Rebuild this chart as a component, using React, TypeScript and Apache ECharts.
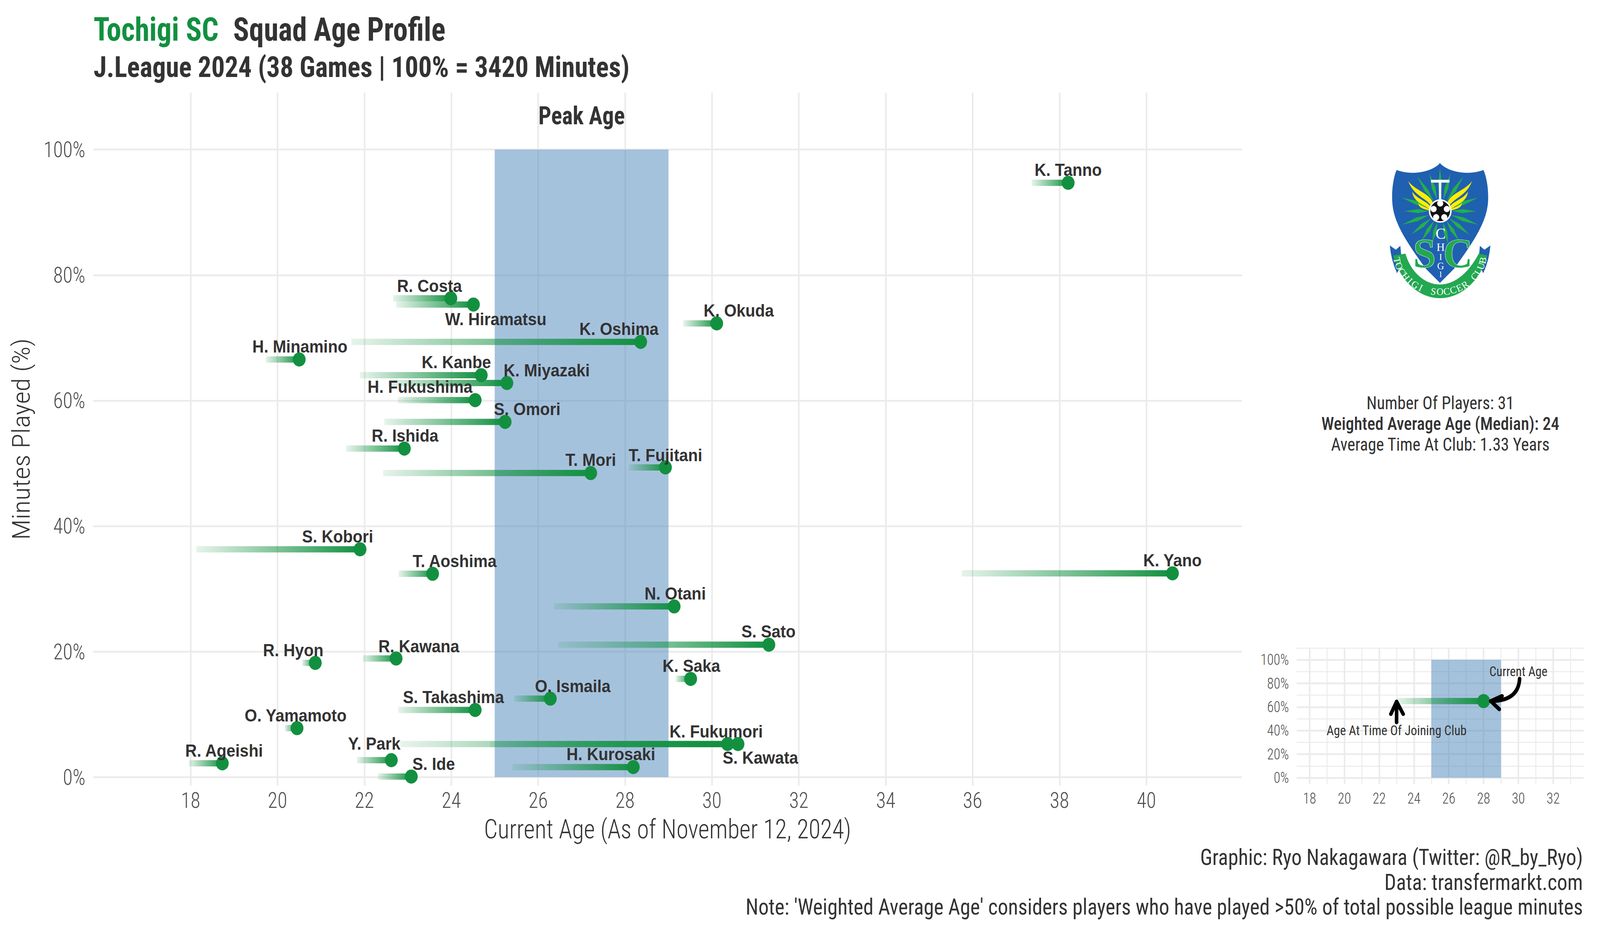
import React, { useEffect, useRef } from "react";
import * as echarts from "echarts";

const players = ["R. Costa","W. Hiramatsu","K. Oshima","H. Minamino","K. Kanbe","K. Miyazaki","H. Fukushima","S. Omori","R. Ishida","T. Mori","T. Fujitani","S. Kobori","T. Aoshima","N. Otani","S. Sato","R. Hyon","R. Kawana","K. Saka","O. Ismaila","S. Takashima","O. Yamamoto","K. Fukumori","S. Kawata","Y. Park","H. Kurosaki","R. Ageishi","S. Ide","K. Okuda","K. Tanno","K. Yano"];
const currentAge = [23.99,24.51,28.36,20.5,24.69,25.28,24.55,25.24,22.92,27.21,28.93,21.9,23.57,29.13,31.31,20.87,22.73,29.51,26.28,24.55,20.45,30.36,30.6,22.62,28.19,18.73,23.08,30.11,38.2,40.6];
const joinAge = [22.66,22.73,21.7,19.73,21.9,22.55,22.77,22.46,21.58,22.43,28.09,18.13,22.79,26.36,26.46,20.57,21.96,29.17,25.44,22.78,20.17,22.83,24.9,21.83,25.41,17.96,22.31,29.34,37.36,35.75];
const minutesPct = [76.3,75.3,69.35,66.55,64.05,62.8,60.07,56.6,52.35,48.45,49.35,36.3,32.4,27.2,21.1,18.2,18.9,15.65,12.5,10.7,7.8,5.27,5.27,2.7,1.6,2.2,0.09,72.3,94.7,32.47];
const labelDx = [-60,63,-61,2,-70,112,-155,62,2,0,0,-63,62,3,-1,-62,64,2,63,-61,-4,-32,63,-48,-63,5,63,62,0,0];
const labelDy = [-32,37,-33,-33,-34,-33,-34,-33,-33,-34,-32,-33,-33,-33,-34,-33,-32,-34,-32,-33,-33,-32,35,-43,-33,-33,-33,-33,-33,-34];

const mainAgeTicks = [18,20,22,24,26,28,30,32,34,36,38,40];
const pctTicks = [0,20,40,60,80,100];
const insetAgeTicks = [18,20,22,24,26,28,30,32];
const insetAgeMinor = [19,21,23,25,27,29,31,33];
const insetPctMinor = [10,30,50,70,90,110];
const peakBand = [25,29,0,100];
const exampleLine = [23,28,65];
const insetStraightArrow = [[23,47],[23,64.5]];
const insetArrowHeadA = [[22.67,54],[23,64.5],[23.38,54]];
const insetCurve = [[30.07,84],[30,65],[28.41,65]];
const insetArrowHeadB = [[29.06,69.3],[28.41,65],[28.9,58.1]];
const statLines = ["Number Of Players: 31","Weighted Average Age (Median): 24","Average Time At Club: 1.33 Years"];
const captionLines = ["Graphic: Ryo Nakagawara (Twitter: @R_by_Ryo)","Data: transfermarkt.com","Note: 'Weighted Average Age' considers players who have played >50% of total possible league minutes"];

const GREEN = "#129040";
const DARK = "#333333";
const GRID = "#EBEBEB";
const RC = "Roboto";
const PAGE_W = 4500;
const PAGE_H = 2400;

echarts.graphic.registerShape("tsShield", echarts.graphic.extendPath("M700,112 C650,170 500,215 358,165 C330,230 318,330 325,420 C335,560 420,700 590,925 L700,1032 L810,925 C980,700 1065,560 1078,420 C1085,330 1072,230 1043,165 C900,215 750,170 700,112 Z", {}));
echarts.graphic.registerShape("tsRibbonEnd", echarts.graphic.extendPath("M305,745 L352,778 L388,748 L400,880 L362,958 Q315,860 305,745 Z", {}));
echarts.graphic.registerShape("tsBand", echarts.graphic.extendPath("M332,822 L428,808 C470,950 580,1045 700,1045 C820,1045 930,950 1005,808 L1072,822 C1020,1020 860,1150 700,1150 C540,1150 385,1020 332,822 Z", {}));
echarts.graphic.registerShape("tsWing", echarts.graphic.extendPath("M450,250 C500,320 610,340 642,410 L628,438 C590,380 490,360 450,250 Z M482,332 C520,390 590,400 625,445 L615,465 C570,430 490,410 482,332 Z M530,418 C550,445 590,445 615,468 L612,475 C570,465 530,455 530,418 Z", {}));

const rayTips = [[700,150],[618,195],[520,215],[400,378],[420,482],[402,585],[475,660],[555,710],[640,720],[782,195],[885,215],[1000,378],[985,482],[1000,585],[930,660],[850,710],[765,730]];
function rayPoints(tip: number[]) {
  const cx = 702, cy = 480;
  const dx = tip[0] - cx, dy = tip[1] - cy, len = Math.hypot(dx, dy);
  const ux = dx / len, uy = dy / len;
  const bx = cx + ux * 90, by = cy + uy * 90;
  const mx = cx + ux * (90 + (len - 90) * 0.45), my = cy + uy * (90 + (len - 90) * 0.45);
  return [tip, [mx - uy * 15, my + ux * 15], [bx, by], [mx + uy * 15, my - ux * 15]];
}

function logoChildren(): any[] {
  const kids: any[] = [
    { type: "tsRibbonEnd", style: { fill: "#2060B0" } },
    { type: "tsRibbonEnd", x: 1402, scaleX: -1, style: { fill: "#2060B0" } },
    { type: "tsShield", style: { fill: "#2060B0" } },
  ];
  rayTips.forEach((t) => kids.push({ type: "polygon", shape: { points: rayPoints(t) }, style: { fill: "#22B04A" } }));
  kids.push({ type: "tsWing", style: { fill: "#FFEE00" } });
  kids.push({ type: "tsWing", x: 1402, scaleX: -1, style: { fill: "#FFEE00" } });
  kids.push({ type: "rect", shape: { x: 630, y: 240, width: 145, height: 22 }, style: { fill: "#fff" } });
  kids.push({ type: "rect", shape: { x: 692, y: 250, width: 18, height: 150 }, style: { fill: "#fff" } });
  kids.push({ type: "circle", shape: { cx: 702, cy: 480, r: 90 }, style: { fill: "#fff" } });
  kids.push({ type: "circle", shape: { cx: 702, cy: 480, r: 78 }, style: { fill: "#111" } });
  [[702,422],[650,465],[754,465],[670,528],[734,528]].forEach(([cx, cy]) =>
    kids.push({ type: "circle", shape: { cx, cy, r: 24 }, style: { fill: "#fff" } }));
  kids.push({ type: "tsBand", style: { fill: "#22A850" } });
  const serif = "Liberation Serif";
  ([["C",705,655,120],["H",705,755,90],["I",705,830,70],["G",705,900,75],["I",705,965,60]] as any[]).forEach(([text, x, y, size]) =>
    kids.push({ type: "text", x, y, style: { text, fontFamily: serif, fontSize: size, fill: "#fff", textAlign: "center", textVerticalAlign: "middle" } }));
  ([["S",578,805],["C",842,805]] as any[]).forEach(([text, x, y]) =>
    kids.push({ type: "text", x, y, style: { text, fontFamily: serif, fontWeight: 700, fontSize: 320, fill: "#22A850", stroke: "#fff", lineWidth: 5, textAlign: "center", textVerticalAlign: "middle" } }));
  const ribbonText = "TOCHIGI SOCCER CLUB";
  ribbonText.split("").forEach((ch, i) => {
    const theta = 168 - (i * 156) / (ribbonText.length - 1);
    const rad = (theta * Math.PI) / 180;
    kids.push({
      type: "text",
      x: 700 + 345 * Math.cos(rad),
      y: 795 + 305 * Math.sin(rad),
      rotation: (-(theta - 90) * Math.PI) / 180,
      style: { text: ch, fontFamily: serif, fontSize: 76, fill: "#fff", textAlign: "center", textVerticalAlign: "middle" },
    });
  });
  return kids;
}

function bandSeries(xAxisIndex: number, yAxisIndex: number) {
  return {
    type: "custom", xAxisIndex, yAxisIndex, silent: true, z: 2,
    data: [peakBand],
    renderItem: (_: any, api: any) => {
      const a = api.coord([api.value(0), api.value(3)]);
      const b = api.coord([api.value(1), api.value(2)]);
      return { type: "rect", shape: { x: a[0], y: a[1], width: b[0] - a[0], height: b[1] - a[1] }, style: { fill: "rgba(75,133,187,0.5)" } };
    },
  };
}

function fadeSeries(xAxisIndex: number, yAxisIndex: number, rows: number[][]) {
  return {
    type: "custom", xAxisIndex, yAxisIndex, silent: true, z: 3,
    data: rows,
    renderItem: (_: any, api: any) => {
      const a = api.coord([api.value(0), api.value(2)]);
      const b = api.coord([api.value(1), api.value(2)]);
      return {
        type: "rect",
        shape: { x: a[0], y: a[1] - 8, width: b[0] - a[0], height: 16 },
        style: { fill: new echarts.graphic.LinearGradient(0, 0, 1, 0, [
          { offset: 0, color: "rgba(18,144,64,0.1)" },
          { offset: 1, color: "rgba(18,144,64,1)" },
        ]) },
      };
    },
  };
}

function curveLine(pts: number[][], api: any, bezier: boolean) {
  const c = pts.map((p) => api.coord(p));
  const style = { stroke: "#000", lineWidth: 10, fill: "none", lineCap: "round", lineJoin: "round" };
  if (bezier) return { type: "bezierCurve", shape: { x1: c[0][0], y1: c[0][1], cpx1: c[1][0], cpy1: c[1][1], x2: c[2][0], y2: c[2][1] }, style };
  return { type: "polyline", shape: { points: c }, style };
}

function textAt(api: any, pt: number[], text: string, fontSize: number, fontWeight: any, fill: string) {
  const c = api.coord(pt);
  return { type: "text", x: c[0], y: c[1], style: { text, fontFamily: RC, fontSize, fontWeight, fill, textAlign: "center", textVerticalAlign: "middle" } };
}

function buildOption(): any {
  const mainLabel = { fontFamily: RC, fontWeight: 300, fontSize: 56, color: "#4D4D4D" };
  const insetLabel = { fontFamily: RC, fontWeight: 300, fontSize: 38, color: "#4D4D4D" };
  const major = { show: true, lineStyle: { color: GRID, width: 4.5 } };
  const minor = { show: true, lineStyle: { color: GRID, width: 2.5 } };
  const quiet = { axisLine: { show: false } };
  const mainPoints = players.map((name, i) => ({
    name,
    value: [currentAge[i], minutesPct[i]],
    label: { offset: [labelDx[i], labelDy[i]] },
  }));
  return {
    animation: false,
    backgroundColor: "#fff",
    grid: [
      { left: 262, top: 237, width: 3231, height: 1773 },
      { left: 3647, top: 1658, width: 807, height: 348 },
    ],
    xAxis: [
      { type: "value", gridIndex: 0, position: "bottom", min: 15.757, max: 42.2, ...quiet,
        axisTick: { show: false, customValues: mainAgeTicks },
        axisLabel: { ...mainLabel, margin: 10, customValues: mainAgeTicks },
        splitLine: major,
        name: "Current Age (As of November 12, 2024)", nameLocation: "middle", nameGap: 78,
        nameTextStyle: { fontFamily: RC, fontSize: 68, fontWeight: 300, color: DARK } },
      { type: "value", gridIndex: 1, position: "bottom", min: 17.26, max: 33.75, ...quiet,
        axisTick: { show: false, customValues: insetAgeMinor }, axisLabel: { show: false }, splitLine: minor },
      { type: "value", gridIndex: 1, position: "bottom", min: 17.26, max: 33.75, ...quiet,
        axisTick: { show: false, customValues: insetAgeTicks },
        axisLabel: { ...insetLabel, margin: 18, customValues: insetAgeTicks }, splitLine: major },
    ],
    yAxis: [
      { type: "value", gridIndex: 0, position: "left", min: -1.35, max: 109.07, ...quiet,
        axisTick: { show: false, customValues: pctTicks },
        axisLabel: { ...mainLabel, margin: 22, customValues: pctTicks, formatter: "{value}%" },
        splitLine: major,
        name: "Minutes Played (%)", nameLocation: "middle", nameGap: 148,
        nameTextStyle: { fontFamily: RC, fontSize: 70, fontWeight: 300, color: DARK } },
      { type: "value", gridIndex: 1, position: "left", min: -5.3, max: 110, ...quiet,
        axisTick: { show: false, customValues: insetPctMinor }, axisLabel: { show: false }, splitLine: minor },
      { type: "value", gridIndex: 1, position: "left", min: -5.3, max: 110, ...quiet,
        axisTick: { show: false, customValues: pctTicks },
        axisLabel: { ...insetLabel, margin: 22, customValues: pctTicks, formatter: "{value}%" }, splitLine: major },
    ],
    series: [
      bandSeries(0, 0),
      {
        type: "custom", xAxisIndex: 0, yAxisIndex: 0, silent: true, z: 6, data: [[27, 105.4]],
        renderItem: (_: any, api: any) => textAt(api, [api.value(0), api.value(1)], "Peak Age", 64, 700, DARK),
      },
      fadeSeries(0, 0, players.map((_, i) => [joinAge[i], currentAge[i], minutesPct[i]])),
      {
        type: "scatter", xAxisIndex: 0, yAxisIndex: 0, symbolSize: 36, silent: true, z: 4,
        itemStyle: { color: GREEN, opacity: 1 },
        data: mainPoints,
        label: { show: true, position: "inside", formatter: "{b}", fontFamily: "Liberation Sans", fontWeight: 700, fontSize: 45, color: DARK },
      },
      bandSeries(2, 2),
      fadeSeries(2, 2, [exampleLine]),
      {
        type: "scatter", xAxisIndex: 2, yAxisIndex: 2, symbolSize: 36, silent: true, z: 4,
        itemStyle: { color: GREEN, opacity: 1 },
        data: [[exampleLine[1], exampleLine[2]]],
      },
      {
        type: "custom", xAxisIndex: 2, yAxisIndex: 2, silent: true, z: 6, data: [[0]],
        renderItem: (_: any, api: any) => ({
          type: "group",
          children: [
            curveLine(insetStraightArrow, api, false),
            curveLine(insetArrowHeadA, api, false),
            curveLine(insetCurve, api, true),
            curveLine(insetArrowHeadB, api, false),
            textAt(api, [30, 90], "Current Age", 35, 400, DARK),
            textAt(api, [23, 40], "Age At Time Of Joining Club", 35.5, 400, DARK),
          ],
        }),
      },
    ],
    graphic: [
      { type: "text", x: 263, y: 75, style: { text: "Tochigi SC", fontFamily: RC, fontWeight: 700, fontSize: 83, fill: GREEN, textVerticalAlign: "middle" } },
      { type: "text", x: 656, y: 75, style: { text: "Squad Age Profile", fontFamily: RC, fontWeight: 700, fontSize: 83, fill: DARK, textVerticalAlign: "middle" } },
      { type: "text", x: 263, y: 171, style: { text: "J.League 2024 (38 Games | 100% = 3420 Minutes)", fontFamily: RC, fontWeight: 700, fontSize: 75, fill: DARK, textVerticalAlign: "middle" } },
      ...statLines.map((text, i) => ({ type: "text", x: 4051, y: 1031 + i * 53, style: { text, fontFamily: RC, fontWeight: i === 1 ? 500 : 400, fontSize: 47, fill: DARK, textAlign: "center", textVerticalAlign: "middle" } })),
      ...captionLines.map((text, i) => ({ type: "text", x: 4452, y: 2194 + i * 63.5, style: { text, fontFamily: RC, fontWeight: 400, fontSize: 58, fill: DARK, textAlign: "right", textVerticalAlign: "middle" } })),
      { type: "group", x: 3800, y: 380, scaleX: 1 / 2.8, scaleY: 1 / 3, children: logoChildren() },
    ],
  };
}

export default function App() {
  const ref = useRef<HTMLDivElement>(null);
  useEffect(() => {
    const el = ref.current!;
    // The browser window may be narrower than the 4500px layout: fit the whole chart into it.
    const sx = Math.min(1, window.innerWidth / PAGE_W);
    const sy = Math.min(1, window.innerHeight / PAGE_H);
    el.style.transformOrigin = "0 0";
    el.style.transform = `scale(${sx},${sy})`;
    const chart = echarts.init(el, undefined, { renderer: "svg" });
    chart.setOption(buildOption());
    return () => chart.dispose();
  }, []);
  return (
    <>
      <style>{`html,body{margin:0;padding:0;overflow:hidden}#chart text{font-stretch:75% !important}`}</style>
      <div id="chart" ref={ref} style={{ width: PAGE_W, height: PAGE_H }} />
    </>
  );
}
